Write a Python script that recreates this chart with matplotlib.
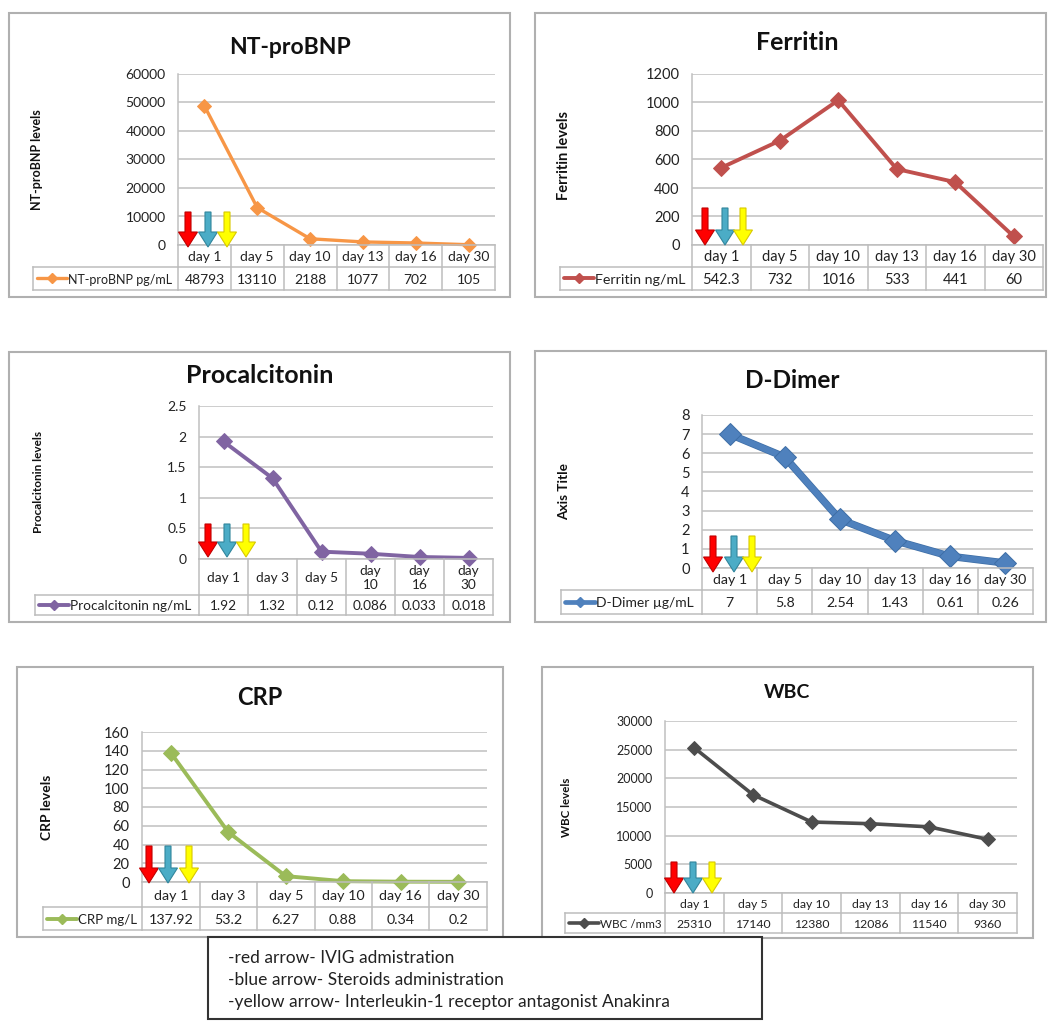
import matplotlib
matplotlib.use("Agg")
import matplotlib.pyplot as plt
import matplotlib.transforms as mtransforms
import matplotlib.patheffects as pe
from matplotlib.patches import Rectangle, FancyArrow

plt.rcParams['font.family'] = ['Lato', 'DejaVu Sans']

W, H = 1048, 1021

# ---------------- data ----------------
ntprobnp_days = ["day 1", "day 5", "day 10", "day 13", "day 16", "day 30"]
ntprobnp_values = [48793, 13110, 2188, 1077, 702, 105]
ntprobnp_ticks = [0, 10000, 20000, 30000, 40000, 50000, 60000]

ferritin_days = ["day 1", "day 5", "day 10", "day 13", "day 16", "day 30"]
ferritin_values = [542.3, 732, 1016, 533, 441, 60]
ferritin_ticks = [0, 200, 400, 600, 800, 1000, 1200]

procalcitonin_days = ["day 1", "day 3", "day 5", "day\n10", "day\n16", "day\n30"]
procalcitonin_values = [1.92, 1.32, 0.12, 0.086, 0.033, 0.018]
procalcitonin_ticks = [0, 0.5, 1, 1.5, 2, 2.5]

ddimer_days = ["day 1", "day 5", "day 10", "day 13", "day 16", "day 30"]
ddimer_values = [7, 5.8, 2.54, 1.43, 0.61, 0.26]
ddimer_ticks = [0, 1, 2, 3, 4, 5, 6, 7, 8]

crp_days = ["day 1", "day 3", "day 5", "day 10", "day 16", "day 30"]
crp_values = [137.92, 53.2, 6.27, 0.88, 0.34, 0.2]
crp_ticks = [0, 20, 40, 60, 80, 100, 120, 140, 160]

wbc_days = ["day 1", "day 5", "day 10", "day 13", "day 16", "day 30"]
wbc_values = [25310, 17140, 12380, 12086, 11540, 9360]
wbc_ticks = [0, 5000, 10000, 15000, 20000, 25000, 30000]

treatment_notes = [
    "-red arrow- IVIG admistration",
    "-blue arrow- Steroids administration",
    "-yellow arrow- Interleukin-1 receptor antagonist Anakinra",
]

# ---------------- layout (pixels) ----------------
panels = [
    dict(title="NT-proBNP", series="NT-proBNP pg/mL", ylabel="NT-proBNP levels",
         days=ntprobnp_days, values=ntprobnp_values, ticks=ntprobnp_ticks,
         color="#F79646", lw=2.4, ms=7, edge=None,
         box=(9, 13, 510, 297), plot=(178, 74, 495, 245), cat_b=267, data_b=290,
         leg_l=33, title_xy=(290, 48), title_fs=16.5, ylab_xy=(37, 160), ylab_fs=9,
         tick_fs=10, cell_fs=10, leg_fs=9, arrows=(188, 208, 227), arr_top=212, arr_tip=247),
    dict(title="Ferritin", series="Ferritin ng/mL", ylabel="Ferritin levels",
         days=ferritin_days, values=ferritin_values, ticks=ferritin_ticks,
         color="#C0504D", lw=2.8, ms=8, edge=None,
         box=(535, 13, 1046, 297), plot=(692, 74, 1043, 245), cat_b=267, data_b=290,
         leg_l=560, title_xy=(797, 43), title_fs=18, ylab_xy=(564, 155), ylab_fs=10.5,
         tick_fs=10.5, cell_fs=10.5, leg_fs=10.3, arrows=(705, 725, 743), arr_top=208, arr_tip=245),
    dict(title="Procalcitonin", series="Procalcitonin ng/mL", ylabel="Procalcitonin levels",
         days=procalcitonin_days, values=procalcitonin_values, ticks=procalcitonin_ticks,
         color="#8064A2", lw=2.8, ms=8, edge=None,
         box=(9, 352, 510, 622), plot=(199, 406, 493, 559), cat_b=595, data_b=615,
         leg_l=35, title_xy=(260, 375), title_fs=18, ylab_xy=(38, 482), ylab_fs=8.5,
         tick_fs=10, cell_fs=9.8, leg_fs=9.8, arrows=(208, 227, 246), arr_top=524, arr_tip=557),
    dict(title="D-Dimer", series="D-Dimer \u00b5g/mL", ylabel="Axis Title",
         days=ddimer_days, values=ddimer_values, ticks=ddimer_ticks,
         color="#4F81BD", lw=4.4, ms=11, edge="#3E6EA6",
         box=(535, 351, 1046, 622), plot=(702, 415, 1033, 568), cat_b=590, data_b=614,
         leg_l=561, title_xy=(792, 380), title_fs=17.5, ylab_xy=(564, 492), ylab_fs=9.8,
         tick_fs=10.5, cell_fs=10.2, leg_fs=10, arrows=(713, 734, 752), arr_top=536, arr_tip=572),
    dict(title="CRP", series="CRP mg/L", ylabel="CRP levels",
         days=crp_days, values=crp_values, ticks=crp_ticks,
         color="#9BBB59", lw=2.8, ms=8, edge=None,
         box=(17, 667, 503, 937), plot=(142, 732, 487, 882), cat_b=907, data_b=930,
         leg_l=43, title_xy=(260, 697), title_fs=17, ylab_xy=(47, 807), ylab_fs=10,
         tick_fs=10.5, cell_fs=10.3, leg_fs=9.5, arrows=(149, 168, 189), arr_top=846, arr_tip=883),
    dict(title="WBC", series="WBC /mm3", ylabel="WBC levels",
         days=wbc_days, values=wbc_values, ticks=wbc_ticks,
         color="#4D4D4D", lw=2.6, ms=7.5, edge=None,
         box=(542, 667, 1033, 938), plot=(665, 721, 1017, 893), cat_b=913, data_b=933,
         leg_l=565, title_xy=(787, 692), title_fs=14, ylab_xy=(567, 807), ylab_fs=8.3,
         tick_fs=9, cell_fs=8.8, leg_fs=8.4, arrows=(674, 693, 712), arr_top=862, arr_tip=893),
]

GRID = "#C0C0C0"
CELL = "#BDBDBD"
ARROW_COLORS = [("#FF0000", "#C00000"), ("#4BACC6", "#31859C"), ("#FFFF00", "#D8C800")]

fig = plt.figure(figsize=(W / 100, H / 100), dpi=100)
fig.patch.set_facecolor("white")


def pixel_axes(z):
    a = fig.add_axes([0, 0, 1, 1], zorder=z)
    a.set_xlim(0, W)
    a.set_ylim(H, 0)
    a.set_autoscale_on(False)
    a.axis("off")
    a.patch.set_alpha(0)
    return a


bg = pixel_axes(0)
fg = pixel_axes(5)


def draw_panel(p):
    x0, y0, x1, y1 = p["box"]
    bg.add_patch(Rectangle((x0, y0), x1 - x0, y1 - y0, fill=False,
                           edgecolor="#B0B0B0", lw=1.5))

    L, T, R, B = p["plot"]
    ax = fig.add_axes([L / W, 1 - B / H, (R - L) / W, (B - T) / H], zorder=2)
    ax.patch.set_alpha(0)
    n = len(p["days"])
    xs = list(range(n))

    # series line, then its diamond markers on top
    effects = None
    if p["edge"]:
        effects = [pe.Stroke(linewidth=p["lw"] + 1.0, foreground=p["edge"]), pe.Normal()]
    ax.plot(xs, p["values"], color=p["color"], lw=p["lw"],
            solid_joinstyle="round", solid_capstyle="round", zorder=3,
            clip_on=False, path_effects=effects)
    ax.plot(xs, p["values"], linestyle="none", marker="D", ms=p["ms"],
            mfc=p["color"], mec=p["edge"] or p["color"], mew=0.7,
            zorder=4, clip_on=False)

    ax.set_xlim(-0.5, n - 0.5)
    ax.set_ylim(p["ticks"][0], p["ticks"][-1])
    ax.set_yticks(p["ticks"])
    ax.set_yticklabels([f"{t:g}" for t in p["ticks"]], fontsize=p["tick_fs"],
                       color="#222222")
    ax.set_xticks([])
    ax.tick_params(axis="y", length=0, pad=9)
    ax.yaxis.grid(True, color=GRID, lw=1.1)
    ax.set_axisbelow(True)
    for s in ("top", "right", "bottom"):
        ax.spines[s].set_visible(False)
    ax.spines["left"].set_color(GRID)
    ax.spines["left"].set_linewidth(1.1)

    # title and axis title
    fg.text(*p["title_xy"], p["title"], ha="center", va="center",
            fontsize=p["title_fs"], fontweight="bold", color="#111111")
    fg.text(*p["ylab_xy"], p["ylabel"], ha="center", va="center", rotation=90,
            fontsize=p["ylab_fs"], fontweight="bold", color="#111111")

    # data table under the plot
    tr = mtransforms.blended_transform_factory(ax.transData, fg.transData)
    cat_b, data_b, leg_l = p["cat_b"], p["data_b"], p["leg_l"]
    kw = dict(color=CELL, lw=1.1, transform=tr, clip_on=False)
    for yy in (B, cat_b, data_b):
        fg.plot([-0.5, n - 0.5], [yy, yy], **kw)
    for i in range(n + 1):
        fg.plot([i - 0.5, i - 0.5], [B, data_b], **kw)
    fg.plot([leg_l, L], [cat_b, cat_b], color=CELL, lw=1.1)
    fg.plot([leg_l, L], [data_b, data_b], color=CELL, lw=1.1)
    fg.plot([leg_l, leg_l], [cat_b, data_b], color=CELL, lw=1.1)

    cy = (B + cat_b) / 2
    dy = (cat_b + data_b) / 2
    for i, (d, v) in enumerate(zip(p["days"], p["values"])):
        fg.text(i, cy + 1, d, transform=tr, ha="center", va="center",
                fontsize=p["cell_fs"], color="#222222", linespacing=1.2)
        fg.text(i, dy + 1, f"{v:g}", transform=tr, ha="center", va="center",
                fontsize=p["cell_fs"], color="#222222")

    # legend key inside the table
    fg.plot([leg_l + 4, leg_l + 34], [dy, dy], color=p["color"],
            lw=min(p["lw"], 3.4), solid_capstyle="round")
    fg.plot([leg_l + 19], [dy], marker="D", ms=5.5, color=p["color"])
    fg.text(leg_l + 35, dy + 1, p["series"], ha="left", va="center",
            fontsize=p["leg_fs"], color="#222222")

    # treatment arrows at day 1
    for xa, (fc, ec) in zip(p["arrows"], ARROW_COLORS):
        length = p["arr_tip"] - p["arr_top"]
        fg.add_patch(FancyArrow(xa, p["arr_top"], 0, length, width=6,
                                head_width=19, head_length=15,
                                length_includes_head=True, facecolor=fc,
                                edgecolor=ec, lw=0.8, zorder=6))


for p in panels:
    draw_panel(p)

# treatment key box
fg.add_patch(Rectangle((208, 937), 762 - 208, 1019 - 937, facecolor="white",
                       edgecolor="#333333", lw=1.5, zorder=7))
for k, line in enumerate(treatment_notes):
    fg.text(228, 958 + 22 * k, line, ha="left", va="center", fontsize=12.5,
            color="#222222", zorder=8)

fig.savefig("out.png", dpi=100, facecolor="white")
